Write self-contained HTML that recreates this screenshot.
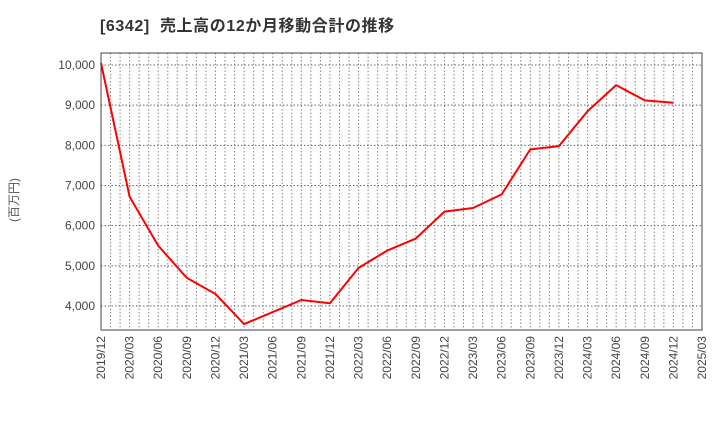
<!DOCTYPE html>
<html><head><meta charset="utf-8"><style>
body{margin:0;background:#fff;font-family:"Liberation Sans","Noto Sans CJK JP",sans-serif}
</style></head><body>
<svg id="chart" width="720" height="440" xmlns="http://www.w3.org/2000/svg">
<text x="100" y="31" font-size="16" letter-spacing="0.6" font-weight="bold" fill="#333" font-family="Liberation Sans, Noto Sans CJK JP, sans-serif">[6342]&#160;&#160;売上高の12か月移動合計の推移</text>
<text transform="translate(18,200) rotate(-90)" text-anchor="middle" font-size="12" fill="#555" font-family="Liberation Sans, Noto Sans CJK JP, sans-serif">(百万円)</text>
<g id="grid"></g><g id="axes"></g><g id="series"></g>
<rect x="101" y="53" width="601" height="277" fill="none" stroke="#444" stroke-width="1"/>
</svg>
<script>
const categories=["2019/12","2020/03","2020/06","2020/09","2020/12","2021/03","2021/06","2021/09","2021/12","2022/03","2022/06","2022/09","2022/12","2023/03","2023/06","2023/09","2023/12","2024/03","2024/06","2024/09","2024/12"];
const values=[10050,6720,5500,4700,4300,3550,3850,4150,4070,4950,5380,5680,6350,6440,6780,7900,7980,8850,9500,9120,9060];
const xTickLabels=["2019/12","2020/03","2020/06","2020/09","2020/12","2021/03","2021/06","2021/09","2021/12","2022/03","2022/06","2022/09","2022/12","2023/03","2023/06","2023/09","2023/12","2024/03","2024/06","2024/09","2024/12","2025/03"];
const yTicks=[4000,5000,6000,7000,8000,9000,10000];
const L=101,R=702,T=53,B=330,yMin=3403,yMax=10299,nQ=21;
const NS="http://www.w3.org/2000/svg";
const xs=i=>L+(R-L)*i/nQ;
const ys=v=>B-(v-yMin)/(yMax-yMin)*(B-T);
function mk(tag,attrs,parent){const e=document.createElementNS(NS,tag);for(const k in attrs)e.setAttribute(k,attrs[k]);document.getElementById(parent).appendChild(e);return e;}
for(let m=1;m<nQ*3;m++){const x=L+(R-L)*m/(nQ*3);
const l=mk('line',{x1:x,x2:x,y1:T,y2:B,stroke:'#888','stroke-dasharray':'1.5,2','stroke-width':1},'grid');

}
yTicks.forEach(v=>{const y=ys(v);
const l=mk('line',{x1:L,x2:R,y1:y,y2:y,stroke:'#666','stroke-dasharray':'1.5,2','stroke-width':1},'grid');


const t=mk('text',{x:L-6,y:y+4,'text-anchor':'end','font-size':12,fill:'#444'},'axes');t.textContent=v.toLocaleString('en-US');

});
xTickLabels.forEach((s,i)=>{const x=xs(i);
const t=mk('text',{transform:`translate(${x+4},${B+6}) rotate(-90)`,'text-anchor':'end','font-size':12,fill:'#444'},'axes');t.textContent=s;

});
const p=mk('polyline',{points:values.map((v,i)=>xs(i)+','+ys(v)).join(' '),fill:'none',stroke:'#f00','stroke-width':2,'stroke-linejoin':'round'},'series');


</script>
</body></html>
